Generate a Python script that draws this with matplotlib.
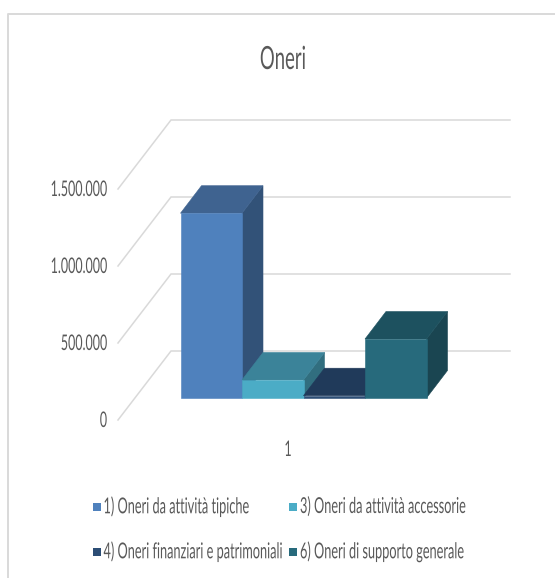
#!/usr/bin/env python3
"""
Oneri: pseudo-3D clustered column chart drawn with polygons.
"""

import matplotlib
matplotlib.use('Agg')
import matplotlib.pyplot as plt
from matplotlib.lines import Line2D
from matplotlib.patches import Polygon, Rectangle
from matplotlib.patheffects import AbstractPathEffect
from matplotlib.text import Text
from matplotlib.transforms import Affine2D, Bbox

TITLE = "Oneri"
CATEGORY = "1"
SERIES = ["1) Oneri da attività tipiche", "3) Oneri da attività accessorie",
          "4) Oneri finanziari e patrimoniali", "6) Oneri di supporto generale"]
VALUES = [1200000, 117000, 15000, 383000]
TICKS = [0, 500000, 1000000, 1500000]
TICK_LABELS = ["0", "500.000", "1.000.000", "1.500.000"]

FRONT_COLORS = ["#4f81bd", "#4bacc6", "#2c4d75", "#276a7c"]
TOP_COLORS = ["#3f6390", "#3b8399", "#203a5a", "#1d515f"]
SIDE_COLORS = ["#325278", "#316e7f", "#1a3350", "#1a4551"]

W, H = 555, 578
PX_PER_UNIT = 77 / 500000
BASE_Y = 398        # pixel row of value 0 on the bar front plane
BAR_LEFT = 180.5
BAR_W = 61.5
BAR_DX, BAR_DY = 21, 27.5
WALL_DX, WALL_DY = 53, 69
WALL_FRONT_X = 118
GRID_RIGHT = 510
TEXT_COLOR = "#595959"
GRID_COLOR = "#d9d9d9"
NARROW = 0.58


class Narrow(AbstractPathEffect):
    """Squeeze glyph outlines horizontally about the text origin."""

    def __init__(self, sx):
        super().__init__()
        self.sx = sx

    def draw_path(self, renderer, gc, tpath, affine, rgbFace=None):
        renderer.draw_path(gc, tpath, Affine2D().scale(self.sx, 1) + affine, rgbFace)


class NarrowText(Text):
    """Left-anchored text whose reported extent follows the squeezed glyphs."""

    def get_window_extent(self, renderer=None, dpi=None):
        box = super().get_window_extent(renderer, dpi)
        return Bbox.from_extents(box.x0, box.y0, box.x0 + box.width * NARROW, box.y1)


def fx(px):
    return px / W


def fy(py):
    return 1 - py / H


def put_text(fig, x, y, s, size, anchor="left"):
    t = NarrowText(fx(x), fy(y), s, fontsize=size, color=TEXT_COLOR, ha="left", va="center",
                   family=["Lato", "DejaVu Sans"], path_effects=[Narrow(NARROW)],
                   transform=fig.transFigure)
    fig.add_artist(t)
    width = t.get_window_extent(fig.canvas.get_renderer()).width
    if anchor == "center":
        t.set_x(fx(x - width / 2))
    elif anchor == "right":
        t.set_x(fx(x - width))
    return t


fig = plt.figure(figsize=(W / 100, H / 100), dpi=100)
ax = fig.add_axes([0, 0, 1, 1])
ax.set_xlim(0, W)
# value axis: pixel rows are converted to values so bars use the real numbers
ax.set_ylim(-(H - BASE_Y) / PX_PER_UNIT, BASE_Y / PX_PER_UNIT)
ax.axis("off")

wall_shift = (420 - BASE_Y) / PX_PER_UNIT   # wall front edge sits below the bar base
depth_wall = WALL_DY / PX_PER_UNIT
depth_bar = BAR_DY / PX_PER_UNIT

for tick in TICKS:
    y0 = tick - wall_shift
    ax.plot([WALL_FRONT_X, WALL_FRONT_X + WALL_DX, GRID_RIGHT],
            [y0, y0 + depth_wall, y0 + depth_wall],
            color=GRID_COLOR, lw=1.1, zorder=1, solid_joinstyle="miter")

for i, value in enumerate(VALUES):
    x0 = BAR_LEFT + i * BAR_W
    x1 = x0 + BAR_W
    front = [(x0, 0), (x1, 0), (x1, value), (x0, value)]
    top = [(x0, value), (x1, value), (x1 + BAR_DX, value + depth_bar), (x0 + BAR_DX, value + depth_bar)]
    side = [(x1, 0), (x1 + BAR_DX, depth_bar), (x1 + BAR_DX, value + depth_bar), (x1, value)]
    for pts, color in ((side, SIDE_COLORS[i]), (top, TOP_COLORS[i]), (front, FRONT_COLORS[i])):
        ax.add_patch(Polygon(pts, closed=True, facecolor=color, edgecolor=color, lw=0.4, zorder=2 + i))

fig.add_artist(Line2D([fx(8), fx(8), 1], [0, fy(14), fy(14)], color=GRID_COLOR, lw=1.4))

put_text(fig, 283, 60, TITLE, 23, "center")
put_text(fig, 288, 450, CATEGORY, 15.5, "center")
for tick, label in zip(TICKS, TICK_LABELS):
    put_text(fig, 107, 420 - tick * PX_PER_UNIT + 1, label, 15.5, "right")

legend_pos = [(92.5, 507), (289, 507), (92.5, 552), (289, 552)]
for (lx, ly), label, color in zip(legend_pos, SERIES, FRONT_COLORS):
    fig.add_artist(Rectangle((fx(lx), fy(ly + 4)), 8 / W, 8 / H, transform=fig.transFigure,
                             facecolor=color, edgecolor="none"))
    put_text(fig, lx + 11, ly, label, 15.8)

fig.savefig("out.png", dpi=100)
plt.close(fig)
